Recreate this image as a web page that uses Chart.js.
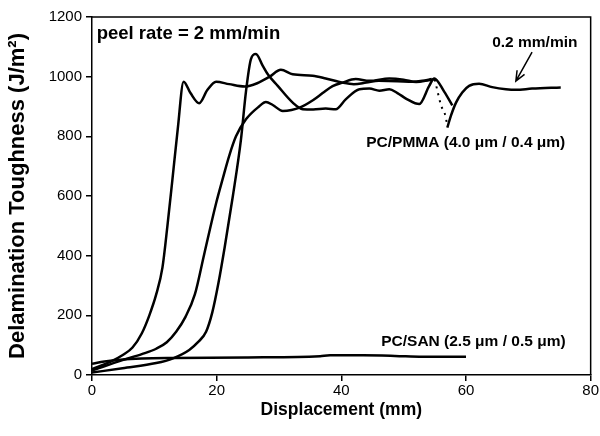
<!DOCTYPE html>
<html>
<head>
<meta charset="utf-8">
<script src="https://cdn.jsdelivr.net/npm/chart.js@4.4.1/dist/chart.umd.min.js"></script>
<style>
  html, body { margin: 0; padding: 0; background: #fff; }
</style>
</head>
<body>
<canvas id="peelChart" width="600" height="436"></canvas>
<script>
// three runs at 2 mm/min (PC/PMMA)
const runAx = [0, 3, 5, 6.5, 8, 9.2, 10.3, 11.3, 12.1, 12.9, 13.75, 14.7, 15.8, 17.2, 18.5, 19.9, 22, 24.5, 26.5, 28.5, 30.3, 32.2, 35.4, 37.5, 40.2, 42, 44, 46, 49, 51.4, 53, 54.5];
const runAy = [20, 45, 68, 92, 140, 200, 270, 360, 500, 655, 823, 983, 945, 911, 955, 983, 975, 967, 978, 1000, 1023, 1008, 1003, 994, 980, 975, 980, 986, 985, 983, 986, 992];

const runBx = [0, 4.9, 8, 10.3, 12, 13.5, 15, 16.5, 18, 19.9, 21, 22, 23.1, 24.7, 26.8, 27.9, 29, 30.6, 32, 33.3, 35.5, 37, 38.6, 40.2, 42.3, 44.5, 47.7, 50, 52, 54, 55];
const runBy = [15, 50, 70, 88, 110, 145, 195, 270, 405, 575, 660, 734, 800, 857, 900, 915, 905, 885, 888, 896, 922, 945, 968, 980, 992, 986, 994, 990, 982, 988, 992];

const runCx = [0, 4.9, 10.3, 13, 15.6, 17, 18.3, 19.3, 20.3, 21.3, 22.6, 23.9, 24.7, 25.5, 26.3, 27.4, 28.2, 29.8, 32.2, 33.8, 35.5, 37.5, 39.1, 40.7, 42.9, 44.5, 46.1, 47.7, 49, 50.5, 52.5, 54.1, 54.9, 56.5, 57.8];
const runCy = [8, 23, 40, 56, 84, 110, 145, 210, 310, 430, 600, 790, 950, 1059, 1076, 1036, 1008, 969, 913, 891, 890, 893, 891, 924, 958, 960, 953, 958, 945, 925, 908, 969, 994, 950, 904];

// switch to 0.2 mm/min
const slowX = [57, 57.6, 58.4, 59.4, 60.5, 62.1, 64.2, 66.4, 68, 70.6, 75.2];
const slowY = [829, 870, 913, 947, 969, 976, 965, 958, 956, 960, 964];

const joinX = [55, 56, 56.7, 57];
const joinY = [990, 904, 869, 835];

// PC/SAN
const sanX = [0, 2, 4.6, 8, 13, 25, 33, 36.6, 38.2, 43.5, 48.6, 53, 60];
const sanY = [38, 45, 51, 55, 57, 59, 60, 63, 66, 66, 64, 61, 61];

const xTicks = [0, 20, 40, 60, 80];
const yTicks = [0, 200, 400, 600, 800, 1000, 1200];

const FONT = "'Liberation Sans', Arial, sans-serif";

function pts(xs, ys) {
  return xs.map((x, i) => ({ x: x, y: ys[i] }));
}

function curve(xs, ys, dash) {
  return {
    data: pts(xs, ys),
    borderColor: '#000',
    borderWidth: dash ? 2 : 2.5,
    borderDash: dash || [],
    pointRadius: 0,
    fill: false,
    cubicInterpolationMode: 'monotone'
  };
}

const notes = [
  { text: 'peel rate = 2 mm/min', x: 0.75, y: 1143, size: 18.5 },
  { text: '0.2 mm/min', x: 64.2, y: 1113, size: 15.5 },
  { text: 'PC/PMMA (4.0 \u03bcm / 0.4 \u03bcm)', x: 44, y: 780, size: 15.5 },
  { text: 'PC/SAN (2.5 \u03bcm / 0.5 \u03bcm)', x: 46.4, y: 111, size: 15.5 }
];
const arrowFrom = { x: 70.6, y: 1082 };
const arrowTo = { x: 68, y: 985 };

const extras = {
  id: 'extras',
  afterDraw(chart) {
    const { ctx, chartArea: a, scales } = chart;
    ctx.save();
    ctx.strokeStyle = '#000';
    ctx.lineWidth = 1.5;
    ctx.beginPath();
    ctx.moveTo(a.left, a.top);
    ctx.lineTo(a.right, a.top);
    ctx.lineTo(a.right, a.bottom);
    ctx.stroke();

    ctx.fillStyle = '#000';
    ctx.textBaseline = 'middle';
    ctx.textAlign = 'left';
    notes.forEach(n => {
      ctx.font = 'bold ' + n.size + 'px ' + FONT;
      ctx.fillText(n.text, scales.x.getPixelForValue(n.x), scales.y.getPixelForValue(n.y));
    });

    // arrow to the slow-rate curve
    const x1 = scales.x.getPixelForValue(arrowFrom.x), y1 = scales.y.getPixelForValue(arrowFrom.y);
    const x2 = scales.x.getPixelForValue(arrowTo.x), y2 = scales.y.getPixelForValue(arrowTo.y);
    const ang = Math.atan2(y2 - y1, x2 - x1);
    ctx.lineWidth = 1.5;
    ctx.beginPath();
    ctx.moveTo(x1, y1);
    ctx.lineTo(x2, y2);
    ctx.moveTo(x2 - 11 * Math.cos(ang - 0.4), y2 - 11 * Math.sin(ang - 0.4));
    ctx.lineTo(x2, y2);
    ctx.lineTo(x2 - 11 * Math.cos(ang + 0.4), y2 - 11 * Math.sin(ang + 0.4));
    ctx.stroke();
    ctx.restore();
  }
};

new Chart(document.getElementById('peelChart'), {
  type: 'line',
  data: {
    datasets: [
      curve(runAx, runAy),
      curve(runBx, runBy),
      curve(runCx, runCy),
      curve(slowX, slowY),
      curve(joinX, joinY, [2, 5]),
      curve(sanX, sanY)
    ]
  },
  options: {
    responsive: false,
    animation: false,
    layout: { padding: { top: 17, right: 8, left: 0, bottom: 0 } },
    plugins: { legend: { display: false }, tooltip: { enabled: false } },
    scales: {
      x: {
        type: 'linear',
        min: 0,
        max: 80,
        afterBuildTicks: s => { s.ticks = xTicks.map(v => ({ value: v })); },
        ticks: { color: '#000', font: { family: FONT, size: 15 }, padding: 1, callback: v => String(v) },
        grid: { drawOnChartArea: false, tickLength: 6, color: '#000', lineWidth: 1.5 },
        border: { color: '#000', width: 1.5 },
        title: { display: true, text: 'Displacement (mm)', color: '#000', font: { family: FONT, size: 17.5, weight: 'bold' }, padding: { top: 0, bottom: 15 } },
        afterFit: s => { s.height = 61; }
      },
      y: {
        min: 0,
        max: 1200,
        afterBuildTicks: s => { s.ticks = yTicks.map(v => ({ value: v })); },
        ticks: { color: '#000', font: { family: FONT, size: 15 }, padding: 4, callback: v => String(v) },
        grid: { drawOnChartArea: false, tickLength: 6, color: '#000', lineWidth: 1.5 },
        border: { color: '#000', width: 1.5 },
        title: { display: true, text: 'Delamination Toughness (J/m\u00b2)', color: '#000', font: { family: FONT, size: 22, weight: 'bold' }, padding: { top: 5, bottom: 0 } },
        afterFit: s => { s.width = 92; }
      }
    }
  },
  plugins: [extras]
});
</script>
</body>
</html>
